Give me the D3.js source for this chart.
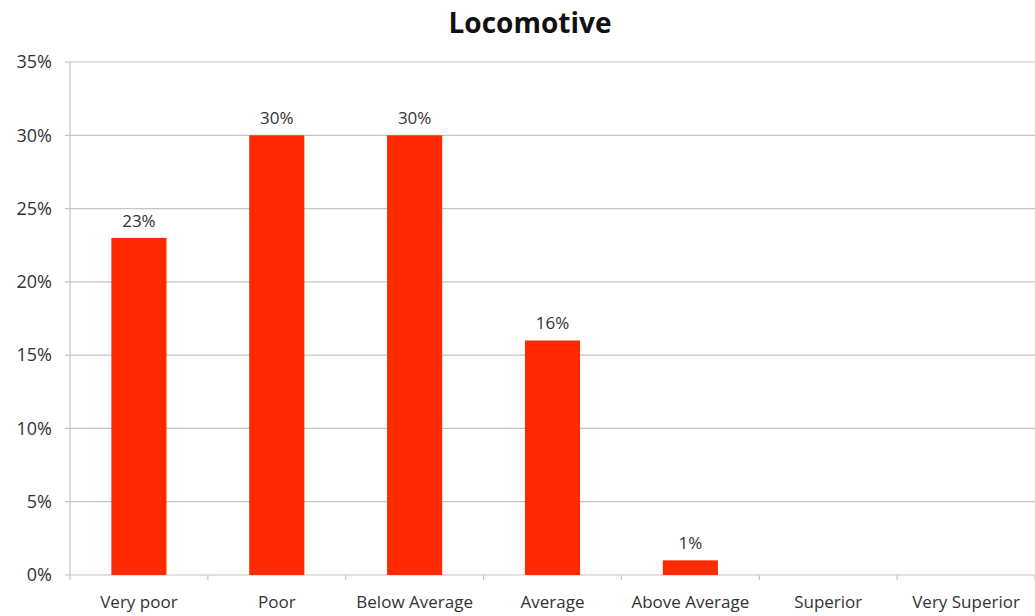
<!DOCTYPE html>
<html>
<head>
<meta charset="utf-8">
<script src="https://cdn.jsdelivr.net/npm/d3@7"></script>
<style>
  body { margin: 0; background: #fff; overflow: hidden; }
  svg { display: block; }
  text { font-family: "Open Sans", "Liberation Sans", sans-serif; }
</style>
</head>
<body>
<div id="chart"></div>
<script>
// Chart data
const categories = ['Very poor', 'Poor', 'Below Average', 'Average', 'Above Average', 'Superior', 'Very Superior'];
const values = [23, 30, 30, 16, 1, null, null];
const yTicks = [0, 5, 10, 15, 20, 25, 30, 35];
const title = 'Locomotive';

const width = 1035, height = 616;
const margin = { top: 62, right: 0, bottom: 41, left: 70 };
const innerWidth = width - margin.left - margin.right;
const innerHeight = height - margin.top - margin.bottom;

const svg = d3.select('#chart')
  .append('svg')
  .attr('width', width)
  .attr('height', height);

svg.append('text')
  .attr('x', 530)
  .attr('y', 33)
  .attr('text-anchor', 'middle')
  .style('font-size', '28px')
  .style('font-weight', 'bold')
  .style('fill', '#111')
  .text(title);

const g = svg.append('g')
  .attr('transform', `translate(${margin.left},${margin.top})`);

const xScale = d3.scaleBand()
  .domain(categories)
  .range([0, innerWidth])
  .paddingInner(0.6)
  .paddingOuter(0.3);

const yScale = d3.scaleLinear()
  .domain([0, 35])
  .range([innerHeight, 0]);

// Gridlines
g.selectAll('.grid')
  .data(yTicks)
  .enter()
  .append('line')
  .attr('x1', -5)
  .attr('x2', innerWidth)
  .attr('y1', d => yScale(d))
  .attr('y2', d => yScale(d))
  .attr('stroke', '#c4c4c4')
  .attr('stroke-width', 1.2);

// Y axis line
g.append('line')
  .attr('x1', 0).attr('x2', 0)
  .attr('y1', 0).attr('y2', innerHeight)
  .attr('stroke', '#c4c4c4')
  .attr('stroke-width', 1.2);

// Y labels
g.selectAll('.ylab')
  .data(yTicks)
  .enter()
  .append('text')
  .attr('x', -18)
  .attr('y', d => yScale(d))
  .attr('dy', '0.35em')
  .attr('text-anchor', 'end')
  .style('font-size', '18px')
  .style('fill', '#333')
  .text(d => d + '%');

// Category boundary ticks
const step = xScale.step();
const outer = xScale(categories[0]) - step * xScale.paddingInner() / 2;
g.selectAll('.xtick')
  .data(d3.range(categories.length + 1))
  .enter()
  .append('line')
  .attr('x1', i => outer + i * step)
  .attr('x2', i => outer + i * step)
  .attr('y1', innerHeight)
  .attr('y2', innerHeight + 5)
  .attr('stroke', '#c4c4c4')
  .attr('stroke-width', 1.2);

// Bars
const barData = categories.map((c, i) => ({ category: c, value: values[i] }))
  .filter(d => d.value != null);

g.selectAll('.bar')
  .data(barData)
  .enter()
  .append('rect')
  .attr('x', d => xScale(d.category))
  .attr('y', d => yScale(d.value))
  .attr('width', xScale.bandwidth())
  .attr('height', d => innerHeight - yScale(d.value))
  .attr('fill', '#ff2a00');

// Value labels
g.selectAll('.vlab')
  .data(barData)
  .enter()
  .append('text')
  .attr('x', d => xScale(d.category) + xScale.bandwidth() / 2)
  .attr('y', d => yScale(d.value) - 11)
  .attr('text-anchor', 'middle')
  .style('font-size', '17px')
  .style('fill', '#333')
  .text(d => d.value + '%');

// X labels
g.selectAll('.xlab')
  .data(categories)
  .enter()
  .append('text')
  .attr('x', d => xScale(d) + xScale.bandwidth() / 2)
  .attr('y', innerHeight + 33)
  .attr('text-anchor', 'middle')
  .style('font-size', '17px')
  .style('fill', '#333')
  .text(d => d);
</script>
</body>
</html>
